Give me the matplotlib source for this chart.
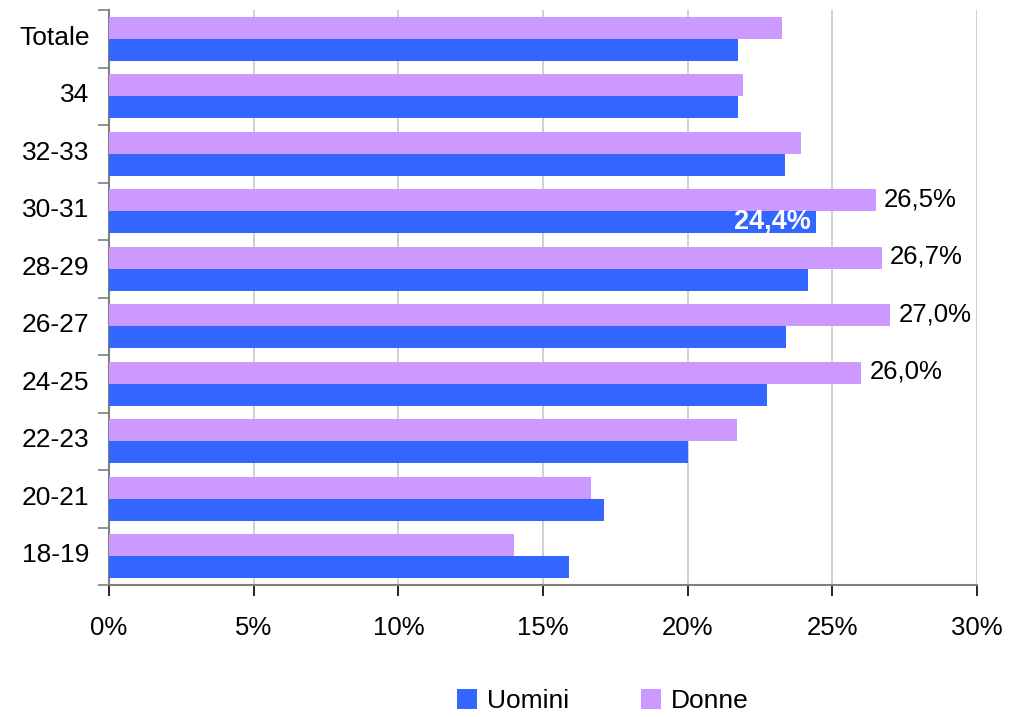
import matplotlib
matplotlib.use("Agg")
import matplotlib.pyplot as plt
import numpy as np
from matplotlib.ticker import FuncFormatter, FixedLocator

categories = ["18-19", "20-21", "22-23", "24-25", "26-27", "28-29", "30-31", "32-33", "34", "Totale"]
uomini = [15.9, 17.1, 20.0, 22.75, 23.4, 24.15, 24.45, 23.35, 21.75, 21.75]
donne = [14.0, 16.65, 21.7, 26.0, 27.0, 26.7, 26.5, 23.9, 21.9, 23.25]
donne_labels = {3: "26,0%", 4: "27,0%", 5: "26,7%", 6: "26,5%"}
uomini_labels = {6: "24,4%"}

plt.rcParams['font.family'] = ['Liberation Sans', 'DejaVu Sans']

blue = "#3366FF"
purple = "#CC99FF"

fig = plt.figure(figsize=(10.10, 7.17), dpi=100)
ax = fig.add_axes([109/1010, 1 - 585/717, (977-109)/1010, (585-10)/717])

y = np.arange(len(categories))
h = 0.38
ax.barh(y - h/2, uomini, height=h, color=blue, label="Uomini", zorder=3)
ax.barh(y + h/2, donne, height=h, color=purple, label="Donne", zorder=3)

for i, t in donne_labels.items():
    ax.text(donne[i] + 0.28, y[i] + h/2 + 0.02, t, va="center", ha="left", fontsize=18.5, color="black", zorder=4)
for i, t in uomini_labels.items():
    ax.text(uomini[i] - 0.2, y[i] - h/2 + 0.02, t, va="center", ha="right", fontsize=19.5,
            color="white", fontweight="bold", zorder=4)

ax.set_xlim(0, 30)
ax.set_ylim(-0.5, len(categories) - 0.5)
ax.set_xticks(np.arange(0, 31, 5))
ax.xaxis.set_major_formatter(FuncFormatter(lambda v, p: f"{v:.0f}%"))
ax.set_yticks(y + 0.06)
ax.set_yticklabels(categories)
ax.yaxis.set_minor_locator(FixedLocator(np.arange(-0.5, len(categories), 1)))
ax.tick_params(axis="y", which="major", length=0, labelsize=19, pad=14)
ax.tick_params(axis="y", which="minor", length=8, width=1.2, color="#808080")
ax.tick_params(axis="x", which="major", length=8, width=1.2, color="black", labelsize=18.5, pad=14)

ax.grid(axis="x", color="#C8C8C8", linewidth=1.2, zorder=0)
for s in ["top", "right"]:
    ax.spines[s].set_visible(False)
for s in ["left", "bottom"]:
    ax.spines[s].set_color("#808080")
    ax.spines[s].set_linewidth(1.5)

handles, labels = ax.get_legend_handles_labels()
leg = fig.legend(handles, labels, loc="lower center", bbox_to_anchor=(0.597, -0.028), ncol=2,
                 frameon=False, fontsize=19, handlelength=0.75, handleheight=0.75,
                 handletextpad=0.4, columnspacing=2.7)

fig.savefig("out.png", dpi=100)
